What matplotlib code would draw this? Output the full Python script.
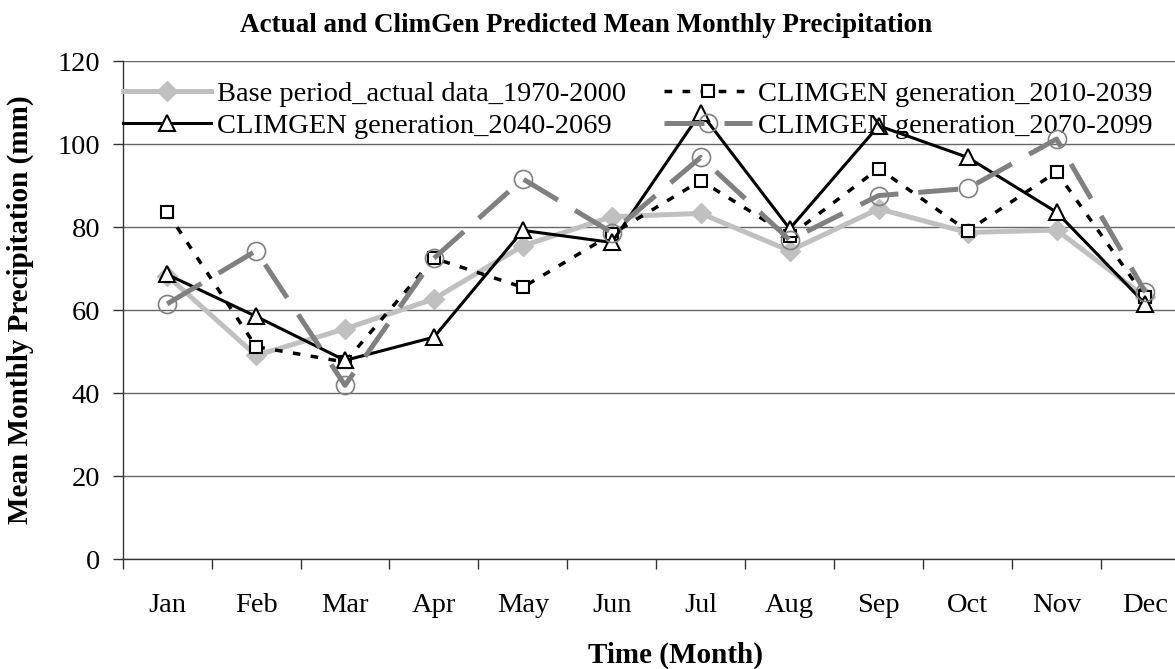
import matplotlib
matplotlib.use("Agg")
import matplotlib.pyplot as plt

plt.rcParams['font.family'] = ['Liberation Serif', 'DejaVu Serif']

# Werte (mm)
months = ['Jan', 'Feb', 'Mar', 'Apr', 'May', 'Jun', 'Jul', 'Aug', 'Sep', 'Oct', 'Nov', 'Dec']
base_1970_2000 = [68.3, 49.1, 55.5, 62.7, 75.5, 82.5, 83.3, 74.3, 84.4, 78.7, 79.3, 63.1]
gen_2010_2039 = [83.6, 51.2, 47.5, 72.5, 65.5, 78.3, 91.2, 77.9, 94.1, 79.1, 93.3, 63.1]
gen_2040_2069 = [68.6, 58.5, 47.9, 53.5, 79.2, 76.3, 107.6, 79.6, 104.4, 96.8, 83.6, 61.5]
gen_2070_2099 = [61.5, 74.3, 41.9, 72.5, 91.6, 78.7, 96.8, 76.9, 87.6, 89.3, 101.2, 64.3]
y_ticks = [0, 20, 40, 60, 80, 100, 120]

fig = plt.figure(figsize=(11.75, 6.69), dpi=100)
# Achse reicht rechts etwas über das Bild hinaus (wie im Original abgeschnitten)
ax = fig.add_axes([0.1044, 0.164, 0.9083, 0.7448])

x = range(len(months))

l_base, = ax.plot(x, base_1970_2000, color='#c0c0c0', lw=3.6, marker='D',
                  ms=10, mfc='#c0c0c0', mec='#c0c0c0', zorder=3,
                  label='Base period_actual data_1970-2000')
l_2010, = ax.plot(x, gen_2010_2039, color='black', lw=2.5, ls=(0, (2.2, 3)),
                  marker='s', ms=8, mfc='white', mec='black', mew=1.5, zorder=4,
                  label='CLIMGEN generation_2010-2039')
l_2040, = ax.plot(x, gen_2040_2069, color='black', lw=2.2, marker='^',
                  ms=12, mfc='white', mec='black', mew=1.5, zorder=5,
                  label='CLIMGEN generation_2040-2069')
l_2070, = ax.plot(x, gen_2070_2099, color='#808080', lw=3.6, ls=(0, (8, 4)),
                  marker='o', ms=13, mfc='none', mec='#808080', mew=1.2, zorder=6,
                  label='CLIMGEN generation_2070-2099')

ax.set_xlim(-0.5, len(months) - 0.5)
ax.set_ylim(0, 120)
ax.set_yticks(y_ticks)
ax.yaxis.grid(True, color='#666666', lw=1.0)
ax.set_axisbelow(True)

# Striche an den Kategoriegrenzen, Beschriftung in der Mitte
ax.set_xticks([i - 0.5 for i in range(len(months) + 1)])
ax.set_xticklabels([])
ax.set_xticks(list(x), minor=True)
ax.set_xticklabels(months, minor=True)
ax.tick_params(axis='x', which='major', direction='out', length=7, width=1, color='#333333')
ax.tick_params(axis='x', which='minor', length=0, pad=24, labelsize=20.5)
ax.tick_params(axis='y', direction='out', length=7, width=1, color='#333333', pad=9, labelsize=20.5)

for s in ['top', 'right']:
    ax.spines[s].set_visible(False)
for s in ['left', 'bottom']:
    ax.spines[s].set_color('#333333')
    ax.spines[s].set_linewidth(1.0)

ax.legend(handles=[l_base, l_2040, l_2010, l_2070], loc='upper left',
          bbox_to_anchor=(0.1044, 0.879), bbox_transform=fig.transFigure,
          ncol=2, frameon=False, borderpad=0, borderaxespad=0,
          handlelength=3.1, handletextpad=0.2, columnspacing=1.35,
          labelspacing=0.2, fontsize=20.5, numpoints=1)

fig.text(0.4987, 0.9626, 'Actual and ClimGen Predicted Mean Monthly Precipitation',
         ha='center', va='center', fontsize=19.5, fontweight='bold')
fig.text(0.5753, 0.021, 'Time (Month)', ha='center', va='center',
         fontsize=21, fontweight='bold')
fig.text(0.017, 0.5366, 'Mean Monthly Precipitation (mm)', ha='center', va='center',
         rotation=90, fontsize=21, fontweight='bold')

fig.savefig('out.png', dpi=100)
